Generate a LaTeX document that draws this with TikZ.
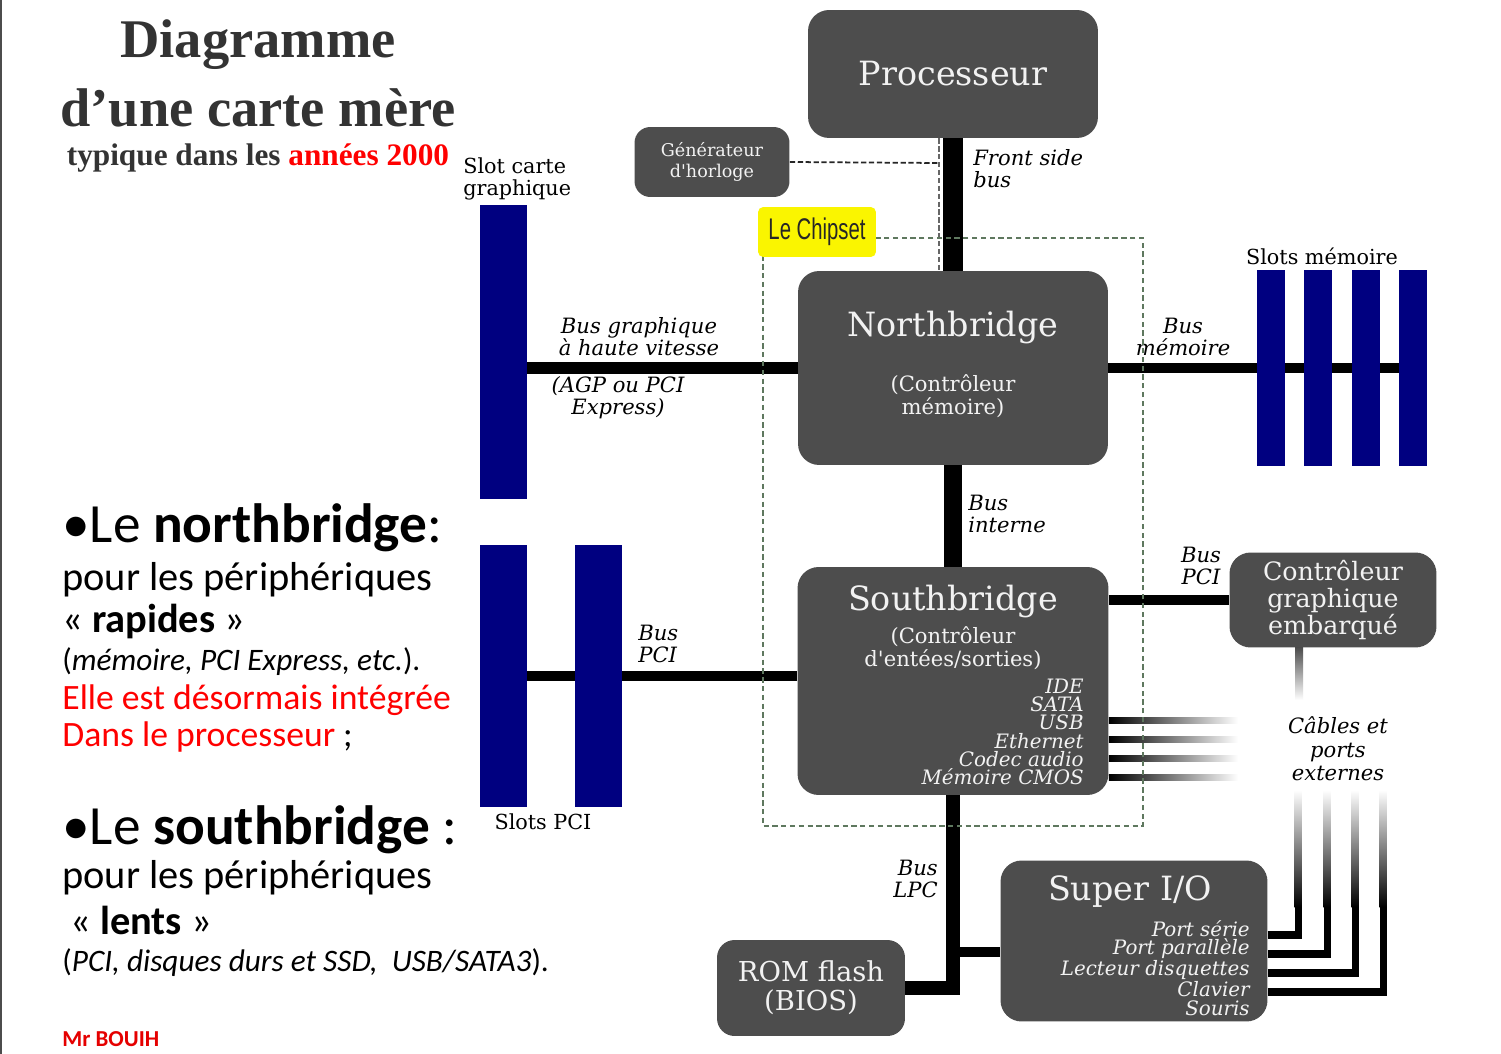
\documentclass[tikz,border=0pt]{standalone}
\usepackage{fontspec}
\usetikzlibrary{calc}
\newfontfamily\diagfont{DejaVu Serif}
\newfontfamily\titlefont{Liberation Serif}
\newfontfamily\notefont{Carlito}
\newfontfamily\chipfont[FakeStretch=0.68]{Liberation Sans}
\definecolor{boxgray}{RGB}{77,77,77}
\definecolor{slotblue}{RGB}{0,0,128}
\definecolor{titlegray}{RGB}{51,51,51}
\definecolor{chipgreen}{RGB}{95,120,95}
\definecolor{hlyellow}{RGB}{250,245,0}
\definecolor{boxtext}{RGB}{242,242,242}
\newcommand{\setfs}[2]{\fontsize{#1}{#2}\selectfont}

\begin{document}
\begin{tikzpicture}[
    x=0.02cm, y=-0.02cm,
    box/.style={fill=boxgray, rounded corners=12pt, text=boxtext, inner sep=0pt, align=center},
    smallbox/.style={box, rounded corners=9pt},
    slot/.style={fill=slotblue, inner sep=0pt, minimum width=0.94cm},
    memslot/.style={slot, minimum width=0.56cm, minimum height=3.94cm},
    bus/.style={draw=black, line width=6pt},
    busfade/.style={left color=black, right color=white},
    cable/.style={draw=black, line width=4pt},
    clockdash/.style={draw=black!85, line width=1pt, dash pattern=on 3pt off 1.5pt},
    chipdash/.style={draw=chipgreen, line width=0.8pt, dash pattern=on 3pt off 2pt},
    boxhead/.style={font=\diagfont\setfs{19}{22}, text=boxtext},
    boxsub/.style={font=\diagfont\setfs{12}{12.8}, text=boxtext, align=center},
    portlist/.style={font=\diagfont\itshape\setfs{11.3}{10.4}, text=boxtext, align=right, anchor=east, inner sep=0pt},
    buslbl/.style={font=\diagfont\itshape\setfs{12}{12.6}, inner sep=0pt},
    slotlbl/.style={font=\diagfont\setfs{11.8}{13}, inner sep=0pt},
    note/.style={font=\notefont\setfs{23}{27}, anchor=base west, inner sep=0pt},
    notesmall/.style={note, font=\notefont\setfs{17.8}{21}},
    notered/.style={note, font=\notefont\setfs{20.3}{24}},
    notehead/.style={font=\notefont\setfs{31.5}{36}, anchor=base west, inner sep=0pt}
]
    \path[use as bounding box, fill=white] (0,0) rectangle (1501,1054);
    \draw[black!70, line width=1.2pt] (1,0) -- (1,1054);

    \node[font=\titlefont\bfseries\setfs{31}{36}, text=titlegray] (title1) at (258,45) {Diagramme};
    \node[font=\titlefont\bfseries\setfs{31}{36}, text=titlegray] (title2) at (258,108) {d’une carte mère};
    \node[font=\titlefont\bfseries\setfs{17.8}{20}, text=titlegray] (title3) at (258,158) {typique dans les \textcolor{red}{années 2000}};

    \node[notehead] (nbhead) at (62,542) {•Le \textbf{northbridge}:};
    \node[note] (nb1) at (62,590) {pour les périphériques};
    \node[note] (nb2) at (62,632) {« \textbf{rapides} »};
    \node[notesmall] (nb3) at (62,670) {(\textit{mémoire, PCI Express, etc.}).};
    \node[notered, text=red] (nb4) at (62,709) {Elle est désormais intégrée};
    \node[notered] (nb5) at (62,746) {\textcolor{red}{Dans le processeur} ;};
    \node[notehead] (sbhead) at (62,844) {•Le \textbf{southbridge} :};
    \node[note] (sb1) at (62,888) {pour les périphériques};
    \node[note] (sb2) at (70,934) {« \textbf{lents} »};
    \node[notesmall] (sb3) at (62,971) {(\textit{PCI, disques durs et SSD,\ \ USB/SATA3}).};
    \node[note, font=\notefont\bfseries\setfs{13}{15}, text=red!90!black] (author) at (62,1046) {Mr BOUIH};

    \node[box, minimum width=5.8cm, minimum height=2.56cm, font=\diagfont\setfs{19}{22}] (cpu) at (953,74) {Processeur};
    \node[smallbox, minimum width=3.1cm, minimum height=1.4cm, font=\diagfont\setfs{10}{12}] (clk) at (712,162) {Générateur\\d'horloge};

    \node[box, minimum width=6.2cm, minimum height=3.88cm] (nb) at (953,368) {};
    \node[boxhead] (nbt) at (953,328) {Northbridge};
    \node[boxsub] (nbs) at (953,396) {(Contrôleur\\mémoire)};

    \node[box, minimum width=6.22cm, minimum height=4.56cm] (sb) at (953,681) {};
    \node[boxhead] (sbt) at (953,602) {Southbridge};
    \node[boxsub] (sbs) at (953,648) {(Contrôleur\\d'entées/sorties)};
    \node[portlist] (sbl) at (1084,732) {IDE\\SATA\\USB\\Ethernet\\Codec audio\\Mémoire CMOS};

    \node[box, minimum width=4.14cm, minimum height=1.9cm, font=\diagfont\setfs{14.4}{15.6}] (gc) at (1333,600) {Contrôleur\\graphique\\embarqué};

    \node[box, minimum width=5.34cm, minimum height=3.22cm] (sio) at (1134,941) {};
    \node[boxhead] (siot) at (1130,892) {Super I/O};
    \node[portlist] (siol) at (1250,968) {Port série\\Port parallèle\\Lecteur disquettes\\Clavier\\Souris};

    \node[box, rounded corners=10pt, minimum width=3.76cm, minimum height=1.92cm, font=\diagfont\setfs{15.6}{16.4}] (rom) at (811,988) {ROM flash\\(BIOS)};

    \node[slot, minimum height=5.88cm] (agp) at (503.5,352) {};
    \node[slot, minimum height=5.24cm] (pci1) at (503.5,676) {};
    \node[slot, minimum height=5.24cm] (pci2) at (598.5,676) {};
    \foreach \i/\x in {1/1271,2/1318,3/1366,4/1413}
        \node[memslot] (m\i) at (\x,368) {};

    \node[slotlbl, align=left, anchor=west] (agpl) at (463,179) {Slot carte\\graphique};
    \node[slotlbl] (meml) at (1322,256) {Slots mémoire};
    \node[slotlbl] (pcil) at (543,822) {Slots PCI};

    \node[buslbl, align=left, anchor=west] (fsbl) at (973,169) {Front side\\bus};
    \node[buslbl, align=center] (agpbl) at (639,337) {Bus graphique\\à haute vitesse};
    \node[buslbl, align=center] (agpxl) at (618,398) {(AGP ou PCI\\Express)};
    \node[buslbl, align=center] (membl) at (1183,337) {Bus\\mémoire};
    \node[buslbl, align=left, anchor=west] (intl) at (968,514) {Bus\\interne};
    \node[buslbl, align=left, anchor=west] (pcibl) at (638,644) {Bus\\PCI};
    \node[buslbl, align=center] (gcbl) at (1201,566) {Bus\\PCI};
    \node[buslbl, align=right, anchor=east] (lpcl) at (938,879) {Bus\\LPC};
    \node[buslbl, align=center, font=\diagfont\itshape\setfs{12}{13.3}] (extl) at (1338,749) {Câbles et\\ports\\externes};

    \coordinate (ck) at (939,163);
    \draw[clockdash] (clk.east) -- (ck);
    \draw[clockdash, draw=black!60] (ck |- cpu.south) -- (ck |- nb.north);

    \draw[bus, line width=11pt] (cpu.south) -- (nb.north);
    \draw[bus, line width=10.5pt] (nb.south) -- (sb.north);
    \draw[bus, line width=6.5pt] (nb.west) -- (agp.east |- nb.west);
    \draw[bus] (nb.east) -- (m1.west);
    \foreach \a/\b in {1/2,2/3,3/4}
        \draw[bus] (m\a.east) -- (m\b.west);
    \draw[bus] (sb.west |- pci2.east) -- (pci2.east);
    \draw[bus] (pci2.west) -- (pci1.east);
    \draw[bus, line width=5.7pt] (sb.east |- gc.west) -- (gc.west);

    \coordinate (lpcb) at (953,952);
    \draw[bus, line width=8pt] (sb.south) -- (sb.south |- rom.east) -- (rom.east);
    \draw[bus] (lpcb) -- (sio.west |- lpcb);

    \coordinate (gcs) at (1299,700);
    \shade[top color=boxgray, bottom color=white] ($(gcs |- gc.south)+(-4,0)$) rectangle ($(gcs)+(4,0)$);

    \foreach \y [count=\i] in {720,739,758,777} {
        \coordinate (sc\i) at (1238,\y);
        \shade[busfade] ($(sb.east |- sc\i)+(0,-3)$) rectangle ($(sc\i)+(0,3)$);
    }

    \foreach \y/\x [count=\i] in {935/1298,954/1327,973/1355,992/1383} {
        \coordinate (pr\i) at (\x,\y);
        \coordinate (pc\i) at (\x,906);
        \draw[cable] (sio.east |- pr\i) -- (pr\i) -- (pc\i);
        \shade[top color=white, bottom color=black] ($(pc\i)+(-3.5,-116)$) rectangle ($(pc\i)+(3.5,1)$);
    }

    \draw[chipdash] (763,238) rectangle (1143,826);
    \node[fill=hlyellow, rounded corners=3pt, inner sep=0pt, minimum width=2.36cm, minimum height=1cm,
          font=\chipfont\setfs{17}{20}, text=black!85] (chip) at (817,232) {Le Chipset};
\end{tikzpicture}
\end{document}
